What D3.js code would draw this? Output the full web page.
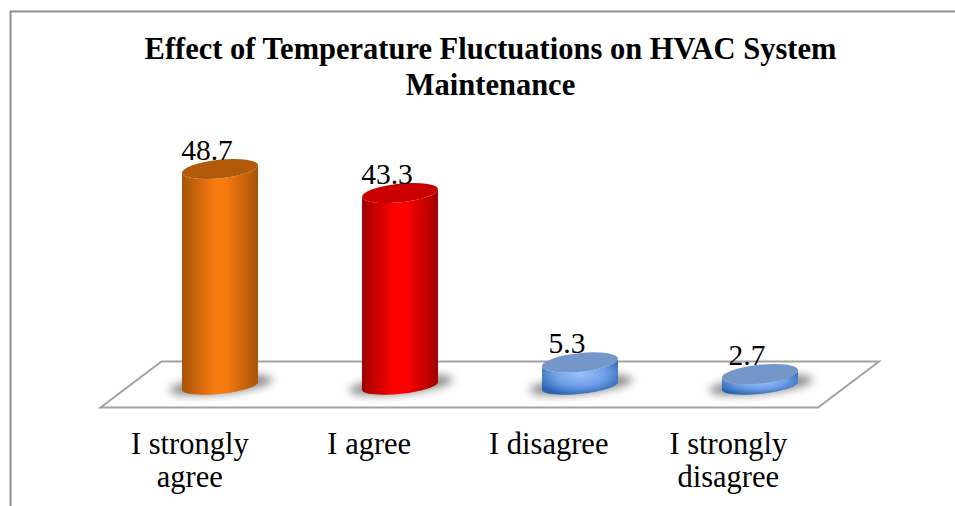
<!DOCTYPE html>
<html>
<head>
<meta charset="utf-8">
<script src="https://cdn.jsdelivr.net/npm/d3@7"></script>
<style>
html,body{margin:0;padding:0;background:#fff;overflow:hidden}
svg{display:block}
text{font-family:"Liberation Serif",serif;fill:#000}
</style>
</head>
<body>
<svg id="c" width="955" height="506"></svg>
<script>
const categories = ["I strongly agree", "I agree", "I disagree", "I strongly disagree"];
const categoryLines = [["I strongly", "agree"], ["I agree"], ["I disagree"], ["I strongly", "disagree"]];
const values = [48.7, 43.3, 5.3, 2.7];
const labels = ["48.7", "43.3", "5.3", "2.7"];
const titleLines = ["Effect of Temperature Fluctuations on HVAC System", "Maintenance"];
const edgeColors = ["#a65407", "#a00000", "#2a64b0", "#2a64b0"];
const midColors = ["#f67a10", "#ff0000", "#9cc3fc", "#9cc3fc"];
const capColors = ["#b25a09", "#c80000", "#7496c8", "#7496c8"];
const radialShading = [false, false, true, true];

const svg = d3.select("#c");
const W = 955, H = 506;
const base = 386, rx = 38.2, ry = 9.3, ryBottom = 7.8, tilt = -6;

// frame
svg.append("path").attr("d", `M10.5 ${H} V11.5 H${W}`)
  .attr("fill", "none").attr("stroke", "#8f8f8f").attr("stroke-width", 2);

// title
svg.append("g").selectAll("text").data(titleLines).join("text")
  .attr("x", 490.5).attr("y", (d, i) => 59 + i * 36)
  .attr("text-anchor", "middle")
  .attr("font-size", 30.5).attr("font-weight", "bold")
  .text(d => d);

const x = d3.scaleBand().domain(categories).range([130, 850]);
const xFront = d3.scaleBand().domain(categories).range([100, 818]);
const y = d3.scaleLinear().domain([0, 50]).range([base, base - 222.8]);

const defs = svg.append("defs");
defs.append("filter").attr("id", "blur").attr("x", "-30%").attr("y", "-60%")
  .attr("width", "160%").attr("height", "220%")
  .append("feGaussianBlur").attr("stdDeviation", 4);

categories.forEach((c, i) => {
  if (radialShading[i]) {
    const g = defs.append("radialGradient").attr("id", "g" + i)
      .attr("cx", 0.5).attr("cy", 0.42).attr("r", 0.62);
    [[0, midColors[i]], [0.55, "#6f9fe6"], [1, edgeColors[i]]].forEach(s =>
      g.append("stop").attr("offset", s[0]).attr("stop-color", s[1]));
  } else {
    const g = defs.append("linearGradient").attr("id", "g" + i)
      .attr("x1", 0).attr("x2", 1).attr("y1", 0).attr("y2", 0);
    [[0, edgeColors[i]], [0.42, midColors[i]], [0.58, midColors[i]], [1, edgeColors[i]]].forEach(s =>
      g.append("stop").attr("offset", s[0]).attr("stop-color", s[1]));
  }
});

// floor
svg.append("path")
  .attr("d", "M100.5 407.5 L161.5 361.5 H879 L818 407.5 Z")
  .attr("fill", "#fff").attr("stroke", "#a2a2a2").attr("stroke-width", 2);

const marks = svg.append("g").selectAll("g").data(categories).join("g");
const cx = c => x(c) + x.bandwidth() / 2;
const dy = rx * Math.sin(-tilt * Math.PI / 180);
const dx = rx * Math.cos(tilt * Math.PI / 180);

// shadow
marks.append("ellipse")
  .attr("rx", 52).attr("ry", 9)
  .attr("transform", c => `translate(${cx(c) + 1},385) rotate(${tilt})`)
  .attr("fill", "#8c8c8c").attr("filter", "url(#blur)");

// body
marks.append("path")
  .attr("fill", (c, i) => `url(#g${i})`)
  .attr("d", (c, i) => {
    const xc = cx(c), t = y(values[i]), b = y(0);
    return `M${xc - dx} ${t + dy} L${xc - dx} ${b + dy} ` +
      `A${rx} ${ryBottom} ${tilt} 0 0 ${xc + dx} ${b - dy} L${xc + dx} ${t - dy} ` +
      `A${rx} ${ry} ${tilt} 0 1 ${xc - dx} ${t + dy} Z`;
  });

// cap
marks.append("ellipse")
  .attr("rx", rx).attr("ry", ry)
  .attr("transform", (c, i) => `translate(${cx(c)},${y(values[i])}) rotate(${tilt})`)
  .attr("fill", (c, i) => capColors[i]);

// value labels
marks.append("text")
  .attr("x", c => cx(c) - 13)
  .attr("y", (c, i) => y(values[i]) - 9)
  .attr("text-anchor", "middle").attr("font-size", 29.5)
  .text((c, i) => labels[i]);

// category axis
const axis = svg.append("g").attr("transform", "translate(0,407)")
  .call(d3.axisBottom(xFront).tickSize(0));
axis.select(".domain").remove();
axis.selectAll("text").each(function (c) {
  const t = d3.select(this).text(null).attr("y", null).attr("dy", null)
    .attr("font-size", 30.5).attr("font-family", '"Liberation Serif",serif');
  categoryLines[categories.indexOf(c)].forEach((l, k) =>
    t.append("tspan").attr("x", 0).attr("y", 47 + k * 33).text(l));
});
</script>
</body>
</html>
